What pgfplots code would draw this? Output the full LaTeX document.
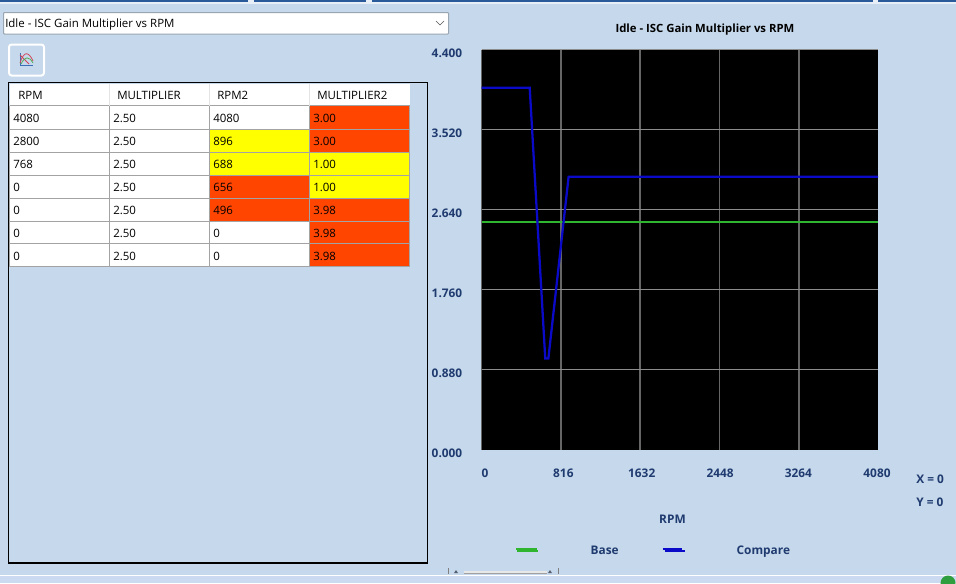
\documentclass[border=0pt]{standalone}
\usepackage{pgfplots}
\pgfplotsset{compat=1.18}
\usepackage{fontspec}
\setmainfont{Open Sans}
\definecolor{bg}{HTML}{C6D8EB}
\definecolor{lab}{HTML}{1F3B70}
\definecolor{hot}{HTML}{FF4500}
\definecolor{warn}{HTML}{FFFF00}
\definecolor{cellline}{HTML}{A3A3A3}
\definecolor{bluel}{HTML}{0A0AC8}
\definecolor{greenl}{HTML}{2FB52F}
\definecolor{strip}{HTML}{2A5A9A}
\definecolor{lowbar}{HTML}{CBDAF0}
\definecolor{orb}{HTML}{2F9E3F}
\definecolor{arrowc}{HTML}{556070}
\definecolor{thumb}{HTML}{E8E8E8}
\definecolor{thumbl}{HTML}{A0A0A0}
\definecolor{comboline}{HTML}{9AA5B2}
\definecolor{chev}{HTML}{555555}
\definecolor{icoblue}{HTML}{3A6FB5}
\definecolor{icored}{HTML}{D0455A}
\definecolor{icogreen}{HTML}{4FAE5A}
\definecolor{headsep}{HTML}{E4E4E4}
\definecolor{gridx}{HTML}{666666}
\definecolor{gridy}{HTML}{8C8C8C}
\newcommand{\uifont}{\fontsize{8.6}{10}\selectfont}
\newcommand{\labsize}{\fontsize{8.9}{10}\selectfont\bfseries}
\newcommand{\labfont}{\labsize\color{lab}}
\pgfplotstableread{
rpm mult
0 2.50
768 2.50
2800 2.50
4080 2.50
}\basetable
\pgfplotstableread{
rpm mult
0 3.98
496 3.98
656 1.00
688 1.00
896 3.00
4080 3.00
}\comparetable
\begin{document}
\begin{tikzpicture}[x=0.75pt,y=-0.75pt]
\clip (0,0) rectangle (956,583);
\fill[bg] (0,0) rectangle (956,583);
% window strips
\fill[white!60!bg] (0,0) rectangle (956,4);
\fill[strip] (0,0) rectangle (248,1.5);
\fill[strip] (254,0) rectangle (366,1.5);
\fill[strip] (372,0) rectangle (873,1.5);
\fill[strip] (878,0) rectangle (956,1.5);
\fill[white] (0,574.6) rectangle (956,576);
\fill[lowbar] (0,576) rectangle (956,583);
\fill[orb] (948,583) circle (7.5);
% scrollbar
\draw[gray,line width=0.5pt] (448.5,568) -- (448.5,574) (558,568) -- (558,574);
\fill[arrowc] (454,573) -- (458,573) -- (456,570) -- cycle;
\fill[arrowc] (548,573) -- (552,573) -- (550,570) -- cycle;
\fill[thumb] (464,570.5) rectangle (547,573.5);
\draw[thumbl,line width=0.4pt] (464,573.5) -- (547,573.5);
% combo box
\draw[fill=white,draw=comboline,line width=0.75pt,rounded corners=0.6pt] (3.5,12.5) rectangle (448.5,34);
\node[anchor=west,inner sep=0,font=\uifont] at (5,24.5) {Idle - ISC Gain Multiplier vs RPM};
\draw[chev,line width=0.5pt] (436,21) -- (440,25) -- (444,21);
% chart button
\draw[white,line width=1.5pt,fill=bg,rounded corners=2pt] (9,44.5) rectangle (44,75.5);
\draw[icoblue,line width=0.7pt] (20,53) -- (20,65) -- (33,65);
\draw[icored,line width=0.6pt] (20,63) .. controls (24,50) and (29,52) .. (33,61);
\draw[icored,line width=0.6pt] (20,55) -- (29,64);
\draw[icogreen,line width=0.6pt] (21,64) .. controls (25,56) and (29,56) .. (33,63);
% table frame
\draw[black,line width=1pt] (8.5,82.5) rectangle (427.5,563);
% table
\fill[white] (9.5,84) rectangle (409.5,266.5);
\foreach \c/\a/\b/\col in {
 309.5/105.5/129/hot,
 209.5/129/152/warn,309.5/129/152/hot,
 209.5/152/175/warn,309.5/152/175/warn,
 209.5/175/198/hot,309.5/175/198/warn,
 209.5/198/221/hot,309.5/198/221/hot,
 309.5/221/243.5/hot,
 309.5/243.5/266.5/hot}{
 \fill[\col] (\c,\a) rectangle (\c+100,\b);
}
\foreach \yy in {105.5,129,152,175,198,221,243.5,266.5}{
 \draw[cellline,line width=0.75pt] (9.5,\yy) -- (409.5,\yy);
}
\foreach \xx in {9.5,109.5,209.5,309.5,409.5}{
 \draw[cellline,line width=0.75pt] (\xx,105.5) -- (\xx,266.5);
}
\foreach \xx in {109.5,209.5,309.5}{
 \draw[headsep,line width=0.75pt] (\xx,84) -- (\xx,105.5);
}
\foreach \xx/\t in {18/RPM,117/MULTIPLIER,217/RPM2,317/MULTIPLIER2}{
 \node[anchor=west,inner sep=0,font=\uifont] at (\xx,95.5) {\t};
}
\foreach \yy/\p/\q/\r/\s in {
 118.5/4080/2.50/4080/3.00,
 141.5/2800/2.50/896/3.00,
 164.5/768/2.50/688/1.00,
 187.5/0/2.50/656/1.00,
 210.5/0/2.50/496/3.98,
 233.5/0/2.50/0/3.98,
 256.5/0/2.50/0/3.98}{
 \node[anchor=west,inner sep=0,font=\uifont] at (13,\yy) {\p};
 \node[anchor=west,inner sep=0,font=\uifont] at (113,\yy) {\q};
 \node[anchor=west,inner sep=0,font=\uifont] at (213,\yy) {\r};
 \node[anchor=west,inner sep=0,font=\uifont] at (313,\yy) {\s};
}
% X, Y readouts
\node[anchor=west,inner sep=0,font=\labfont] at (916,479) {X = 0};
\node[anchor=west,inner sep=0,font=\labfont] at (916,502) {Y = 0};
\begin{axis}[
  at={(361.125pt,-337.125pt)},anchor=south west,
  scale only axis,width=297.4pt,height=300pt,
  xmin=0,xmax=4080,ymin=0,ymax=4.4,
  axis background/.style={fill=black},
  axis line style={draw=none},
  xtick={0,816,1632,2448,3264},
  ytick={0.88,1.76,2.64,3.52,4.4},
  extra x ticks={4080},
  extra y ticks={0},
  extra x tick style={grid=none,xticklabel style={xshift=-3.4pt}},
  extra y tick style={grid=none},
  major tick length=0pt,
  tick label style={font=\labfont},
  scaled ticks=false,
  grid=major,
  x grid style={gridx,line width=1.3pt},
  y grid style={gridy,line width=0.75pt},
  xticklabel style={anchor=center,yshift=-17.6pt,xshift={(3.5-0.95*\ticknum)*0.75pt},
    /pgf/number format/fixed,/pgf/number format/1000 sep={},/pgf/number format/assume math mode=true},
  yticklabel style={anchor=center,xshift=-25.9pt,yshift=-2.6pt,
    /pgf/number format/fixed,/pgf/number format/fixed zerofill,/pgf/number format/precision=3,/pgf/number format/assume math mode=true},
  tick label style={inner sep=0pt},
  title={\color{black}Idle - ISC Gain Multiplier vs RPM},
  title style={font=\fontsize{8.5}{10}\selectfont\bfseries,at={(axis description cs:0.5635,1.0)},anchor=center,yshift=9pt,inner sep=0pt},
  xlabel={RPM},
  xlabel style={font=\labfont,at={(axis description cs:0.4816,0)},anchor=center,yshift=-52.1pt,inner sep=0pt},
  legend columns=2,
  legend style={at={(axis description cs:0.087,-0.254)},anchor=west,draw=none,fill=none,
    font=\labsize,inner sep=0pt,
    /tikz/column 1/.style={column sep=36.8pt},
    /tikz/column 2/.style={column sep=31.5pt},
    /tikz/column 3/.style={column sep=35.75pt}},
  legend image code/.code={\path (0pt,0pt) -- (15.5pt,0pt);},
]
\addplot[greenl,line width=1.5pt] table[x=rpm,y=mult] {\basetable};
\addlegendentry{\textcolor{lab}{Base}}
\addplot[bluel,line width=1.7pt] table[x=rpm,y=mult] {\comparetable};
\addlegendentry{\textcolor{lab}{Compare}}
\end{axis}
\draw[greenl,line width=0.9pt] (516,549) -- (537,549);
\draw[bluel,line width=0.9pt] (663,549) -- (682,549);
\end{tikzpicture}
\end{document}
